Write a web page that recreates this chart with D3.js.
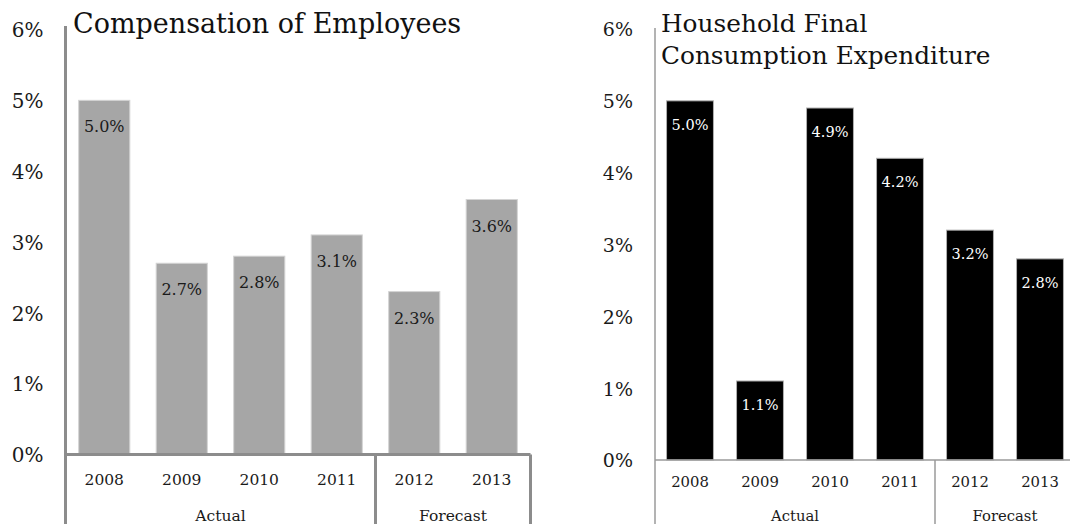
<!DOCTYPE html>
<html>
<head>
<meta charset="utf-8">
<script src="https://cdn.jsdelivr.net/npm/d3@7"></script>
<style>
  html, body { margin: 0; padding: 0; background: #fff; }
  svg { display: block; font-family: "DejaVu Serif", serif; }
</style>
</head>
<body>
<svg id="chart" width="1070" height="524"></svg>
<script>
// Annual growth rates (%), actual 2008-2011 and forecast 2012-2013
const years = ["2008", "2009", "2010", "2011", "2012", "2013"];
const groupLabels = ["Actual", "Forecast"];
const groupSizes = [4, 2];
const compensation = [5.0, 2.7, 2.8, 3.1, 2.3, 3.6];
const consumption = [5.0, 1.1, 4.9, 4.2, 3.2, 2.8];
const yTicks = [0, 1, 2, 3, 4, 5, 6];
const titleCompensation = ["Compensation of Employees"];
const titleConsumption = ["Household Final", "Consumption Expenditure"];

const svg = d3.select("#chart");

function drawPanel(opt) {
  const g = svg.append("g");
  const x = d3.scaleBand().domain(years)
    .range([opt.x0, opt.x1])
    .paddingInner(opt.padIn).paddingOuter(opt.padOut);
  const y = d3.scaleLinear().domain([0, 6]).range([opt.base, opt.top]);

  // y tick labels
  const yAxis = g.append("g")
    .attr("transform", `translate(${opt.x0},0)`)
    .call(d3.axisLeft(y).tickValues(yTicks).tickFormat(d => d + "%")
      .tickSize(0).tickPadding(opt.yPad));
  yAxis.select(".domain").remove();
  yAxis.selectAll("text")
    .attr("font-family", "DejaVu Serif, serif")
    .attr("font-size", opt.tickSize).attr("fill", "#1a1a1a")
    .attr("dy", "0.36em");

  // bars
  g.append("g").selectAll("rect").data(opt.values).join("rect")
    .attr("x", (d, i) => x(years[i]))
    .attr("width", x.bandwidth())
    .attr("y", d => y(d))
    .attr("height", d => y(0) - y(d))
    .attr("fill", opt.barFill)
    .attr("stroke", opt.barStroke).attr("stroke-width", 1);

  // value labels inside the bar tops
  g.append("g").selectAll("text").data(opt.values).join("text")
    .attr("x", (d, i) => x(years[i]) + x.bandwidth() / 2)
    .attr("y", d => y(d) + opt.labelOffset)
    .attr("text-anchor", "middle")
    .attr("font-size", opt.labelSize)
    .attr("fill", opt.labelFill)
    .text(d => d.toFixed(1) + "%");

  // year labels
  const xAxis = g.append("g")
    .attr("transform", `translate(0,${opt.base})`)
    .call(d3.axisBottom(x).tickSize(0).tickPadding(opt.xPad));
  xAxis.select(".domain").remove();
  xAxis.selectAll("text")
    .attr("font-family", "DejaVu Serif, serif")
    .attr("font-size", opt.catSize).attr("fill", "#1a1a1a");

  // group labels and separators
  let start = 0;
  const bounds = [];
  groupSizes.forEach((n, k) => {
    const a = x.step() * start + opt.x0;
    const b = x.step() * (start + n) + opt.x0;
    bounds.push(b);
    g.append("text")
      .attr("x", (a + b) / 2).attr("y", opt.groupY)
      .attr("text-anchor", "middle")
      .attr("font-size", opt.catSize).attr("fill", "#1a1a1a")
      .text(groupLabels[k]);
    start += n;
  });

  const line = (x1, y1, x2, y2) => g.append("line")
    .attr("x1", x1).attr("y1", y1).attr("x2", x2).attr("y2", y2)
    .attr("stroke", opt.lineColor).attr("stroke-width", opt.lineWidth);

  // value axis line running down through the category band
  line(opt.x0, opt.axisTop, opt.x0, 524);
  // baseline
  line(opt.x0, opt.base, opt.x1, opt.base);
  // dividers after each group
  bounds.forEach(b => line(b, opt.base, b, 524));

  // title
  const t = g.append("text")
    .attr("x", opt.titleX).attr("y", opt.titleY)
    .attr("font-size", opt.titleSize).attr("fill", "#111");
  opt.title.forEach((s, i) => t.append("tspan")
    .attr("x", opt.titleX).attr("dy", i === 0 ? 0 : opt.titleLead).text(s));
}

drawPanel({
  values: compensation, title: titleCompensation,
  x0: 65.5, x1: 530.5, padIn: 0.34, padOut: 0.17,
  base: 454.5, top: 29.5, axisTop: 26,
  yPad: 22, tickSize: 20, xPad: 19, groupY: 521, catSize: 15.5,
  barFill: "#a6a6a6", barStroke: "#d4d4d4",
  labelFill: "#1a1a1a", labelSize: 16, labelOffset: 32,
  lineColor: "#8c8c8c", lineWidth: 3,
  titleX: 73, titleY: 33, titleSize: 27, titleLead: 32
});

drawPanel({
  values: consumption, title: titleConsumption,
  x0: 655, x1: 1075, padIn: 0.33, padOut: 0.165,
  base: 460, top: 29, axisTop: 28,
  yPad: 22, tickSize: 19, xPad: 16, groupY: 521, catSize: 14.8,
  barFill: "#000000", barStroke: "#b0b0b0",
  labelFill: "#ffffff", labelSize: 14.5, labelOffset: 29,
  lineColor: "#9a9a9a", lineWidth: 1.5,
  titleX: 661, titleY: 32, titleSize: 24.8, titleLead: 32
});
</script>
</body>
</html>
